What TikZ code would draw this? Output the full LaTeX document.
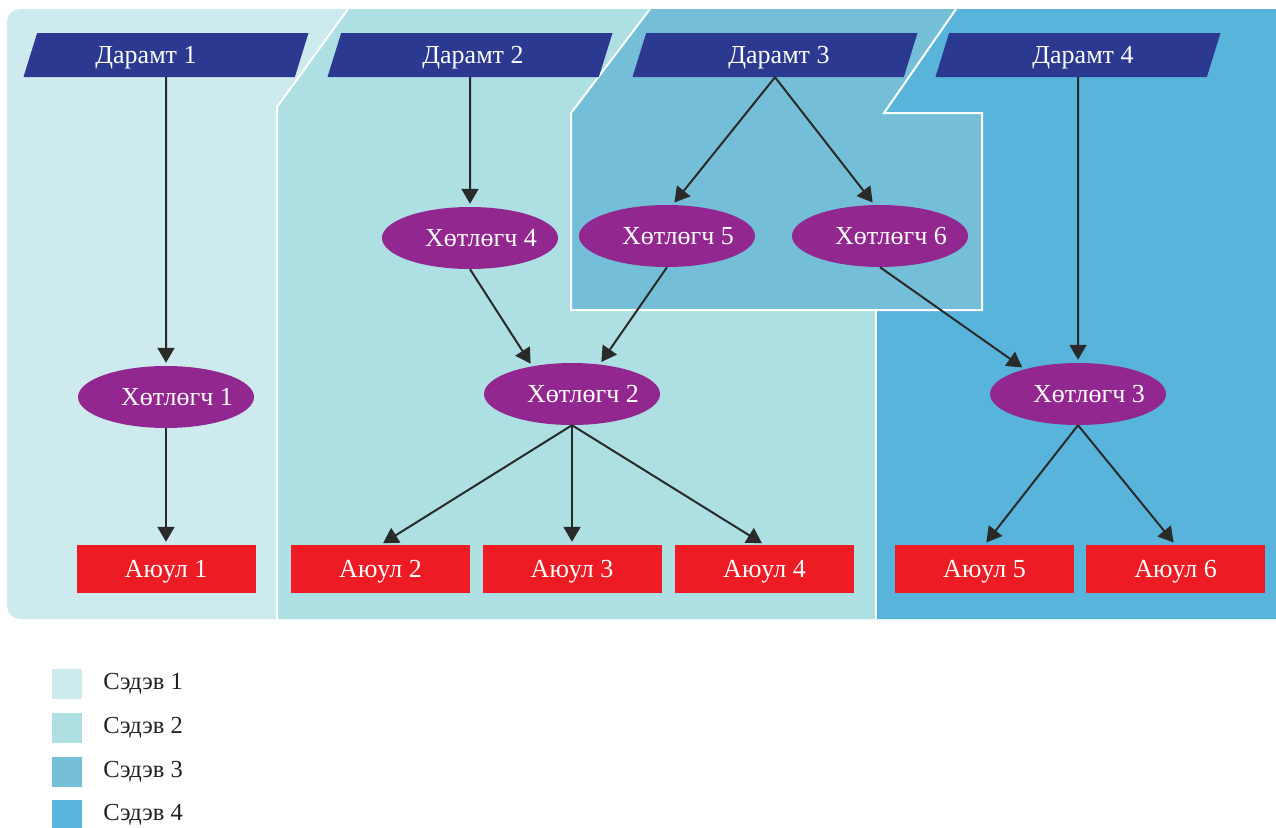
\documentclass[tikz,border=0pt]{standalone}
\usepackage{fontspec}
\setmainfont{Liberation Serif}
\usetikzlibrary{shapes.geometric, arrows.meta, positioning}

\definecolor{sedev1}{HTML}{CDEBEE}
\definecolor{sedev2}{HTML}{ADDFE3}
\definecolor{sedev3}{HTML}{74BFD7}
\definecolor{sedev4}{HTML}{58B4DB}
\definecolor{daramtcol}{HTML}{2B3990}
\definecolor{hotolcol}{HTML}{92278F}
\definecolor{ayulcol}{HTML}{ED1C24}
\definecolor{flechecol}{HTML}{2A2A2A}
\definecolor{legtext}{HTML}{231F20}

\begin{document}
\begin{tikzpicture}[x=1pt, y=-1pt]
			\tikzset{daramt/.style={trapezium, trapezium left angle=51.5, trapezium right angle=128.5, trapezium stretches body,
			fill=daramtcol, text=white, minimum width=285pt, minimum height=44pt, inner sep=0pt, text depth=0pt,
			font=\fontsize{26}{30}\selectfont},
			hotol/.style={ellipse, fill=hotolcol, text=white, minimum width=176pt, minimum height=62pt, inner sep=0pt,
			font=\fontsize{26}{30}\selectfont, execute at begin node={\hspace*{11pt}}, execute at end node={\hspace*{-11pt}}},
			ayul/.style={rectangle, fill=ayulcol, text=white, minimum width=179pt, minimum height=48pt, inner sep=0pt,
			text depth=0pt, font=\fontsize{26}{30}\selectfont},
			fleche/.style={draw=flechecol, line width=2pt, -{Triangle[length=15pt, width=17pt]}, shorten >=3pt},
			mur/.style={draw=white, line width=2pt},
			legende/.style={minimum size=30pt, inner sep=0pt}};

			\useasboundingbox (0,0) rectangle (1276,827);

			% fonds des sujets
			\fill[sedev1, rounded corners=13pt] (7,9) rectangle (1296,619);
			\fill[sedev2] (348,9) -- (650,9) -- (571,113) -- (571,310) -- (876,310) -- (876,619) -- (277,619) -- (277,107) -- cycle;
			\fill[sedev3] (650,9) -- (956,9) -- (884,113) -- (982,113) -- (982,310) -- (571,310) -- (571,113) -- cycle;
			\fill[sedev4] (956,9) -- (1296,9) -- (1296,619) -- (876,619) -- (876,310) -- (982,310) -- (982,113) -- (884,113) -- cycle;
			\draw[mur] (348,9) -- (277,107) -- (277,619);
			\draw[mur] (650,9) -- (571,113) -- (571,310) -- (982,310) -- (982,113) -- (884,113) -- (956,9);
			\draw[mur] (876,310) -- (876,619);

			\foreach \i/\x/\s in {1/166/-20, 2/470/3, 3/775/4, 4/1078/5}{
				\node[daramt, execute at begin node={\hspace*{\s pt}}, execute at end node={\hspace*{-\s pt}}] (d\i) at (\x,55) {Дарамт \i};
			}

			\node[hotol] (h1) at (166,397) {Хөтлөгч 1};
			\node[hotol] (h2) at (572,394) {Хөтлөгч 2};
			\node[hotol] (h3) at (1078,394) {Хөтлөгч 3};
			\node[hotol] (h4) at (470,238) {Хөтлөгч 4};
			\node[hotol] (h5) at (667,236) {Хөтлөгч 5};
			\node[hotol] (h6) at (880,236) {Хөтлөгч 6};

			\foreach \i/\x in {1/166, 2/380.5, 3/572, 4/764.5, 5/984.5, 6/1175.5}{
				\node[ayul] (a\i) at (\x,569) {Аюул \i};
			}

			\draw[fleche] (d1.south) -- (h1.north);
			\draw[fleche] (h1.south) -- (a1.north);
			\draw[fleche] (d2.south) -- (h4.north);
			\draw[fleche] (d3.south) -- (h5.80);
			\draw[fleche] (d3.south) -- (h6.100);
			\draw[fleche] (d4.south) -- (h3.north);
			\draw[fleche] (h4.south) -- (h2.145);
			\draw[fleche] (h5.south) -- (h2.47);
			\draw[fleche] (h6.south) -- (h3.155);
			\foreach \j in {2, 3, 4}{
				\draw[fleche] (h2.south) -- (a\j.north);
			}
			\foreach \j in {5, 6}{
				\draw[fleche] (h3.south) -- (a\j.north);
			}

			% legende
			\foreach \i/\y in {1/684, 2/728, 3/772, 4/815}{
				\node[legende, fill=sedev\i] (l\i) at (67,\y) {};
				\node[right=21pt of l\i, inner sep=0pt, text=legtext, font=\fontsize{24.5}{28}\selectfont] (t\i) {Сэдэв \i};
			}

		\end{tikzpicture}
\end{document}
